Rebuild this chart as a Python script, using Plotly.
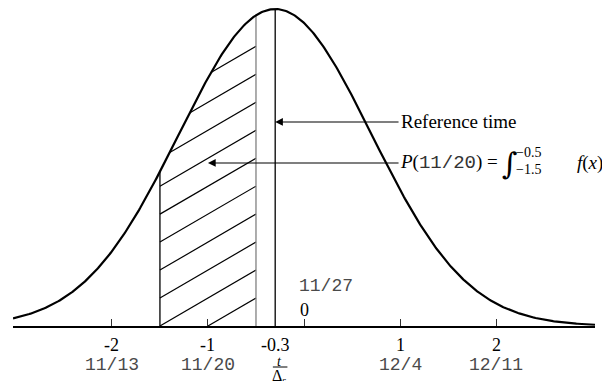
import numpy as np
import plotly.graph_objects as go

# ---- data ----
MEAN = -0.3          # centre of the distribution (reference time)
SD = 1.0
X_MIN, X_MAX = -3.03, 3.03
BAND_LEFT, BAND_RIGHT = -1.5, -0.5
REF_TIME = -0.3
AXIS_TICKS = [-2, -1, 0, 1, 2]
NUM_LABEL_POS = [-2, -1, -0.3, 1, 2]
NUM_LABELS = ["-2", "-1", "-0.3", "1", "2"]
DATE_LABEL_POS = [-2, -1, 1, 2]
DATE_LABELS = ["11/13", "11/20", "12/4", "12/11"]
ZERO_LABEL = "0"
ZERO_DATE = "11/27"
HATCH_SPACING = 0.0352   # vertical spacing of hatch lines (density units)
HATCH_COUNT = 10
ARROW_TAIL_X = 1.0
REF_ARROW_Y = 0.2568
P_ARROW_Y = 0.2052
P_ARROW_TIP = -1.0
Y_TOP = 0.40025

SERIF = "Liberation Serif, Times New Roman, serif"
MONO = "Liberation Mono, Courier New, monospace"
MONO_COLOR = "#4a4a4a"


def pdf(x):
    return np.exp(-0.5 * ((np.asarray(x, dtype=float) - MEAN) / SD) ** 2) / (SD * np.sqrt(2 * np.pi))


# curve
xs = np.linspace(X_MIN, X_MAX, 500)
ys = pdf(xs)

# hatch lines
slope = 2 * HATCH_SPACING / (BAND_RIGHT - BAND_LEFT)
hx, hy = [], []
for k in range(1, HATCH_COUNT + 1):
    line = lambda x, k=k: k * HATCH_SPACING + slope * (x - BAND_RIGHT)
    x_zero = BAND_RIGHT - k * HATCH_SPACING / slope
    start = max(BAND_LEFT, x_zero)
    if line(start) > float(pdf(start)):
        lo, hi = start, BAND_RIGHT
        for _ in range(60):
            mid = 0.5 * (lo + hi)
            if line(mid) > float(pdf(mid)):
                lo = mid
            else:
                hi = mid
        start = hi
    hx += [start, BAND_RIGHT, None]
    hy += [line(start), line(BAND_RIGHT), None]

fig = go.Figure()
fig.add_trace(go.Scatter(x=hx, y=hy, mode="lines", line=dict(color="black", width=1.2),
                         hoverinfo="skip", showlegend=False))
for xv, col in [(BAND_LEFT, "black"), (BAND_RIGHT, "#808080"), (REF_TIME, "black")]:
    fig.add_trace(go.Scatter(x=[xv, xv], y=[0, float(pdf(xv))], mode="lines",
                             line=dict(color=col, width=1.3), hoverinfo="skip", showlegend=False))
fig.add_trace(go.Scatter(x=xs, y=ys, mode="lines", line=dict(color="black", width=2.2),
                         hoverinfo="skip", showlegend=False, cliponaxis=False))

ann = []
for xv, t in zip(NUM_LABEL_POS, NUM_LABELS):
    ann.append(dict(x=xv, y=0, xref="x", yref="y", text=t, showarrow=False,
                    yanchor="middle", yshift=-19, font=dict(family=SERIF, size=18, color="black")))
for xv, t in zip(DATE_LABEL_POS, DATE_LABELS):
    ann.append(dict(x=xv, y=0, xref="x", yref="y", text=t, showarrow=False,
                    yanchor="middle", yshift=-39, font=dict(family=MONO, size=18, color=MONO_COLOR)))
ann.append(dict(x=0, y=0, xref="x", yref="y", text=ZERO_LABEL, showarrow=False,
                yanchor="middle", yshift=16, font=dict(family=SERIF, size=18, color="black")))
ann.append(dict(x=0, y=0, xref="x", yref="y", text=ZERO_DATE, showarrow=False,
                xanchor="left", xshift=-7, yanchor="middle", yshift=40,
                font=dict(family=MONO, size=18, color=MONO_COLOR)))
# t / Delta_s
ann.append(dict(x=REF_TIME, y=0, xref="x", yref="y", text="<i>t</i>", showarrow=False,
                xshift=4, yanchor="middle", yshift=-35, font=dict(family=SERIF, size=14, color="black")))
ann.append(dict(x=REF_TIME, y=0, xref="x", yref="y", text="Δ<sub>s</sub>", showarrow=False,
                xshift=4, yanchor="middle", yshift=-50, font=dict(family=SERIF, size=16, color="black")))
# arrows
ann.append(dict(x=REF_TIME, y=REF_ARROW_Y, ax=ARROW_TAIL_X, ay=REF_ARROW_Y, xref="x", yref="y",
                axref="x", ayref="y", text="", showarrow=True, arrowhead=2, arrowsize=1.4,
                arrowwidth=1.1, arrowcolor="black"))
ann.append(dict(x=P_ARROW_TIP, y=P_ARROW_Y, ax=ARROW_TAIL_X, ay=P_ARROW_Y, xref="x", yref="y",
                axref="x", ayref="y", text="", showarrow=True, arrowhead=2, arrowsize=1.4,
                arrowwidth=1.1, arrowcolor="black"))
ann.append(dict(x=ARROW_TAIL_X, y=REF_ARROW_Y, xref="x", yref="y", text="Reference time",
                showarrow=False, xanchor="left", yanchor="middle", xshift=-1,
                font=dict(family=SERIF, size=19, color="black")))
ann.append(dict(x=ARROW_TAIL_X, y=P_ARROW_Y, xref="x", yref="y",
                text="<i>P</i>(<span style=\"font-family:Liberation Mono;color:#333\">11/20</span>) =",
                showarrow=False, xanchor="left", yanchor="middle", xshift=-2,
                font=dict(family=SERIF, size=19, color="black")))
ann.append(dict(x=2.14, y=P_ARROW_Y, xref="x", yref="y", text="∫", showarrow=False,
                xanchor="center", yanchor="middle", yshift=-1,
                font=dict(family="DejaVu Serif", size=30, color="black")))
ann.append(dict(x=2.34, y=P_ARROW_Y, xref="x", yref="y", text="−0.5", showarrow=False,
                xanchor="center", yanchor="middle", yshift=10,
                font=dict(family=SERIF, size=14, color="black")))
ann.append(dict(x=2.34, y=P_ARROW_Y, xref="x", yref="y", text="−1.5", showarrow=False,
                xanchor="center", yanchor="middle", yshift=-7,
                font=dict(family=SERIF, size=14, color="black")))
ann.append(dict(x=2.82, y=P_ARROW_Y, xref="x", yref="y", text="<i>f</i>(<i>x</i>)", showarrow=False,
                xanchor="left", yanchor="middle",
                font=dict(family=SERIF, size=19, color="black")))

PLOT_H = 318
bar_c = (REF_TIME - X_MIN) / (X_MAX - X_MIN)
fig.update_layout(
    width=602, height=373,
    margin=dict(l=5, r=15, t=0, b=55),
    paper_bgcolor="white", plot_bgcolor="white",
    xaxis=dict(range=[X_MIN, X_MAX], showgrid=False, zeroline=False, showline=True,
               linecolor="black", linewidth=1.5, ticks="inside", ticklen=7, tickwidth=1,
               tickcolor="#333", tickvals=AXIS_TICKS, showticklabels=False, fixedrange=True),
    yaxis=dict(range=[0, Y_TOP], visible=False, fixedrange=True),
    annotations=ann,
    shapes=[dict(type="line", xref="paper", yref="paper", x0=bar_c - 0.004, x1=bar_c + 0.021,
                 y0=-41 / PLOT_H, y1=-41 / PLOT_H, line=dict(color="black", width=1))],
    showlegend=False,
)
fig.write_html("out.html")
